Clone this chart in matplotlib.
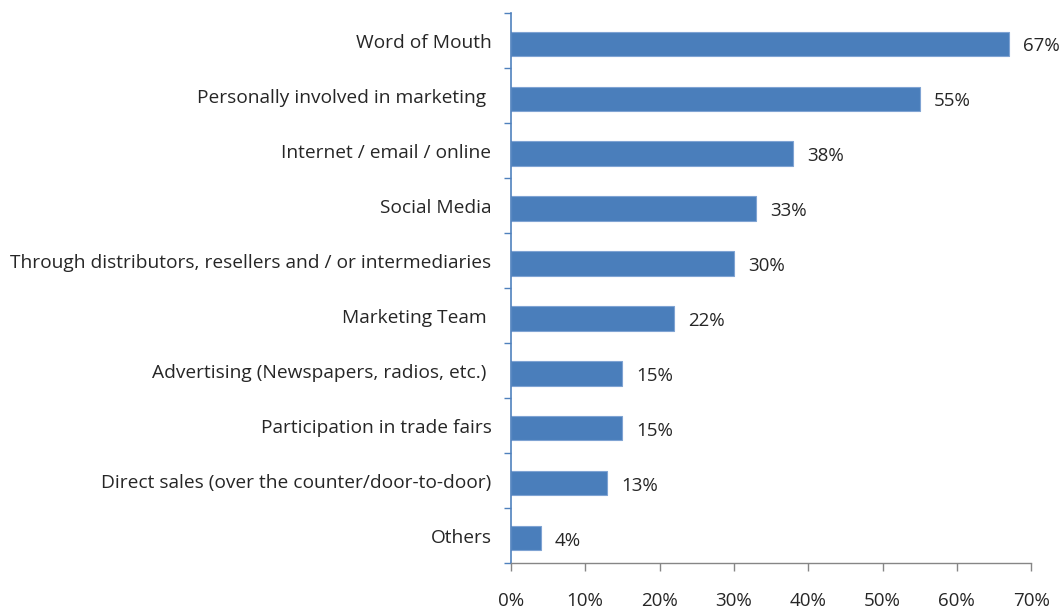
import matplotlib.pyplot as plt
import numpy as np

categories = [
    "Word of Mouth",
    "Personally involved in marketing ",
    "Internet / email / online",
    "Social Media",
    "Through distributors, resellers and / or intermediaries",
    "Marketing Team ",
    "Advertising (Newspapers, radios, etc.) ",
    "Participation in trade fairs",
    "Direct sales (over the counter/door-to-door)",
    "Others",
]
values = [67, 55, 38, 33, 30, 22, 15, 15, 13, 4]
xticks = [0, 10, 20, 30, 40, 50, 60, 70]

plt.rcParams['font.family'] = ['Open Sans', 'DejaVu Sans']

fig = plt.figure(figsize=(10.62, 6.10), dpi=100)
ax = fig.add_axes([0.481, 0.077, 0.490, 0.901])

y = np.arange(len(categories))
ax.barh(y + 0.05, values, height=0.44, color="#4A7EBB", edgecolor="#7FA3D3", linewidth=0.8)

for yi, v in zip(y, values):
    ax.annotate(f"{v}%", (v, yi), xytext=(10, -4), textcoords="offset points",
                ha="left", va="center", fontsize=13.5, color="#262626")

ax.set_ylim(len(categories) - 0.5, -0.5)
ax.set_xlim(0, 70)

ax.set_yticks(y)
ax.set_yticklabels(categories, fontsize=13.8, color="#262626")
ax.set_yticks(np.arange(-0.5, len(categories), 1), minor=True)
ax.tick_params(axis="y", which="major", length=0, pad=14)
ax.tick_params(axis="y", which="minor", length=5, color="#4F81BD", width=1)

ax.set_xticks(xticks)
ax.set_xticklabels([f"{t}%" for t in xticks], fontsize=13.5, color="#262626")
ax.tick_params(axis="x", length=6, color="#868686", width=1, pad=15)

for s in ["top", "right"]:
    ax.spines[s].set_visible(False)
ax.spines["left"].set_color("#4F81BD")
ax.spines["left"].set_linewidth(1.2)
ax.spines["bottom"].set_color("#868686")
ax.spines["bottom"].set_linewidth(1)

fig.savefig("out.png", dpi=100)
